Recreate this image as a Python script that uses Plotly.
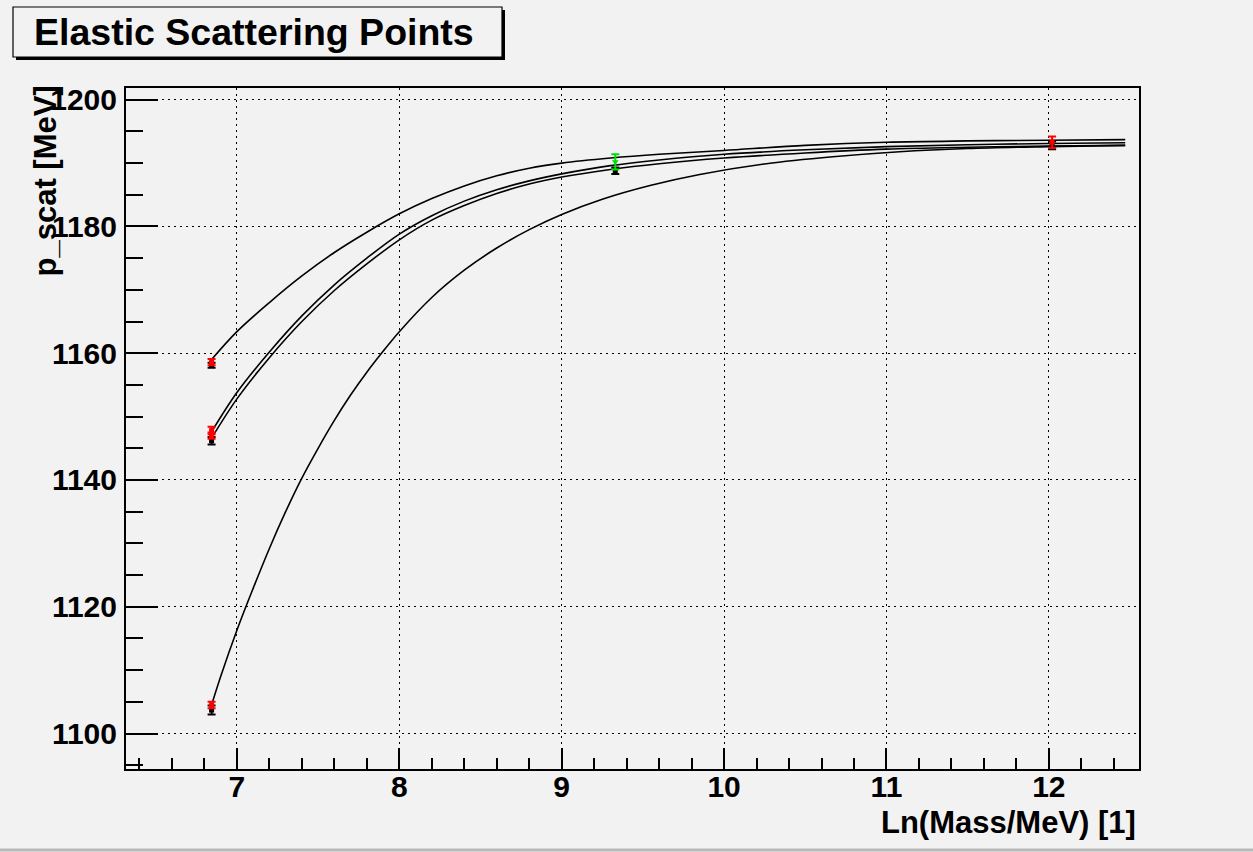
import plotly.graph_objects as go

# ---------------- data ----------------
curve_a_x = [6.844, 7.0, 7.2, 7.4, 7.6, 7.8, 8.0, 8.2, 8.4, 8.6, 8.8, 9.0, 9.3, 9.6, 10.0, 10.5, 11.0, 11.5, 12.0, 12.47]
curve_a_y = [1159.0, 1163.4, 1168.0, 1172.2, 1175.9, 1179.1, 1182.0, 1184.4, 1186.4, 1188.0, 1189.2, 1190.0,
             1190.8, 1191.4, 1192.0, 1192.8, 1193.3, 1193.5, 1193.6, 1193.7]

curve_b_x = [6.844, 7.0, 7.2, 7.4, 7.6, 7.8, 8.0, 8.2, 8.4, 8.6, 8.8, 9.0, 9.3, 9.6, 10.0, 10.5, 11.0, 11.5, 12.0, 12.47]
curve_b_y = [1147.6, 1153.8, 1160.2, 1165.9, 1170.8, 1175.0, 1178.8, 1181.7, 1184.0, 1185.8, 1187.2, 1188.3,
             1189.6, 1190.5, 1191.4, 1192.1, 1192.6, 1192.9, 1193.1, 1193.2]

curve_c_x = [6.844, 7.0, 7.2, 7.4, 7.6, 7.8, 8.0, 8.2, 8.4, 8.6, 8.8, 9.0, 9.3, 9.6, 10.0, 10.5, 11.0, 11.5, 12.0, 12.47]
curve_c_y = [1146.6, 1152.8, 1159.3, 1165.0, 1169.9, 1174.1, 1177.9, 1181.0, 1183.3, 1185.2, 1186.7, 1187.8,
             1189.0, 1189.9, 1190.8, 1191.6, 1192.2, 1192.5, 1192.7, 1192.8]

curve_d_x = [6.844, 6.9, 7.0, 7.1, 7.2, 7.3, 7.4, 7.5, 7.6, 7.7, 7.8, 7.9, 8.0, 8.2, 8.4, 8.6, 8.8, 9.0,
             9.25, 9.55, 9.85, 10.26, 10.67, 11.08, 11.5, 12.0, 12.47]
curve_d_y = [1104.5, 1109.0, 1116.3, 1122.9, 1129.2, 1135.0, 1140.3, 1145.0, 1149.4, 1153.4, 1157.0, 1160.3,
             1163.4, 1168.8, 1173.1, 1176.6, 1179.5, 1181.9, 1184.3, 1186.5, 1188.2, 1189.9, 1191.0,
             1191.8, 1192.3, 1192.6, 1192.8]

red_x = [6.844, 6.844, 6.844, 6.844, 12.02]
red_y = [1158.6, 1147.8, 1147.0, 1104.5, 1193.3]
red_err = [0.5, 0.6, 0.5, 0.5, 0.9]

black_x = [6.844, 6.844, 6.844, 9.33, 12.02]
black_y = [1158.1, 1146.2, 1103.7, 1188.8, 1192.8]
black_err = [0.4, 0.6, 0.7, 0.5, 0.6]

green_x = [9.33]
green_y = [1190.2]
green_err = [1.2]

x_range = [6.317, 12.555]
y_range = [1094.4, 1201.85]

title_text = "Elastic Scattering Points"
x_title = "Ln(Mass/MeV) [1]"
y_title = "p_scat [MeV]"

# ---------------- figure ----------------
BG = "#f2f2f2"
FONT = "Liberation Sans, Arial, Helvetica, sans-serif"

fig = go.Figure()

for cx, cy in [(curve_a_x, curve_a_y), (curve_b_x, curve_b_y), (curve_c_x, curve_c_y), (curve_d_x, curve_d_y)]:
    fig.add_trace(go.Scatter(x=cx, y=cy, mode="lines",
                             line=dict(color="black", width=1.6, shape="spline", smoothing=1.0),
                             hoverinfo="skip", showlegend=False))

fig.add_trace(go.Scatter(x=black_x, y=black_y, mode="markers",
                         marker=dict(color="black", size=5, symbol="square"),
                         error_y=dict(type="data", array=black_err, color="black", thickness=2, width=4),
                         showlegend=False))
fig.add_trace(go.Scatter(x=red_x, y=red_y, mode="markers",
                         marker=dict(color="red", size=5, symbol="square"),
                         error_y=dict(type="data", array=red_err, color="red", thickness=2, width=4),
                         showlegend=False))
fig.add_trace(go.Scatter(x=green_x, y=green_y, mode="markers",
                         marker=dict(color="#00e000", size=6, symbol="triangle-down"),
                         error_y=dict(type="data", array=green_err, color="#00e000", thickness=2, width=4),
                         showlegend=False))

axis_font = dict(family=FONT, size=30, color="black", weight="bold")
GRID_DASH = "2px,4px"

fig.update_xaxes(range=x_range, showgrid=True, gridcolor="black", griddash=GRID_DASH, gridwidth=1,
                 zeroline=False, showline=True, linecolor="black", linewidth=2, mirror=True,
                 ticks="inside", ticklen=21, tickwidth=1.5, tickcolor="black", dtick=1, tick0=0,
                 tickfont=axis_font, ticklabelstandoff=-10,
                 minor=dict(ticks="inside", ticklen=11, tickwidth=1.5, tickcolor="black", dtick=0.2, showgrid=False))
fig.update_yaxes(range=y_range, showgrid=True, gridcolor="black", griddash=GRID_DASH, gridwidth=1,
                 zeroline=False, showline=True, linecolor="black", linewidth=2, mirror=True,
                 ticks="inside", ticklen=32, tickwidth=1.5, tickcolor="black", dtick=20, tick0=1100,
                 tickfont=axis_font, ticklabelstandoff=1,
                 minor=dict(ticks="inside", ticklen=17, tickwidth=1.5, tickcolor="black", dtick=5, showgrid=False))

W, H = 1253, 852
ML, MR, MT, MB = 126, 114, 88, 83
PW, PH = W - ML - MR, H - MT - MB


def px(xp):
    return (xp - ML) / PW


def py(yp):
    return (H - MB - yp) / PH


shapes = [
    # title shadow
    dict(type="rect", xref="paper", yref="paper", x0=px(16), x1=px(505), y0=py(60), y1=py(10),
         fillcolor="black", line=dict(width=0), layer="above"),
    # title box
    dict(type="rect", xref="paper", yref="paper", x0=px(13), x1=px(502), y0=py(57), y1=py(7),
         fillcolor=BG, line=dict(color="black", width=1.2), layer="above"),
    # bottom window border
    dict(type="line", xref="paper", yref="paper", x0=px(0), x1=px(W), y0=py(850), y1=py(850),
         line=dict(color="#b8b8b8", width=3), layer="above"),
]

annotations = [
    dict(text=title_text, xref="paper", yref="paper", x=px(254), y=py(32), xanchor="center", yanchor="middle",
         showarrow=False, font=dict(family=FONT, size=37.5, color="black", weight="bold")),
    dict(text=x_title, xref="paper", yref="paper", x=px(1138), y=py(822), xanchor="right", yanchor="middle",
         showarrow=False, font=dict(family=FONT, size=31, color="black", weight="bold")),
    dict(text=y_title, xref="paper", yref="paper", x=px(45), y=py(84), xanchor="center", yanchor="top",
         textangle=-90, showarrow=False, font=dict(family=FONT, size=31, color="black", weight="bold")),
]

fig.update_layout(width=W, height=H, margin=dict(l=ML, r=MR, t=MT, b=MB, pad=0),
                  paper_bgcolor=BG, plot_bgcolor=BG, showlegend=False,
                  shapes=shapes, annotations=annotations)

fig.write_html("out.html")
